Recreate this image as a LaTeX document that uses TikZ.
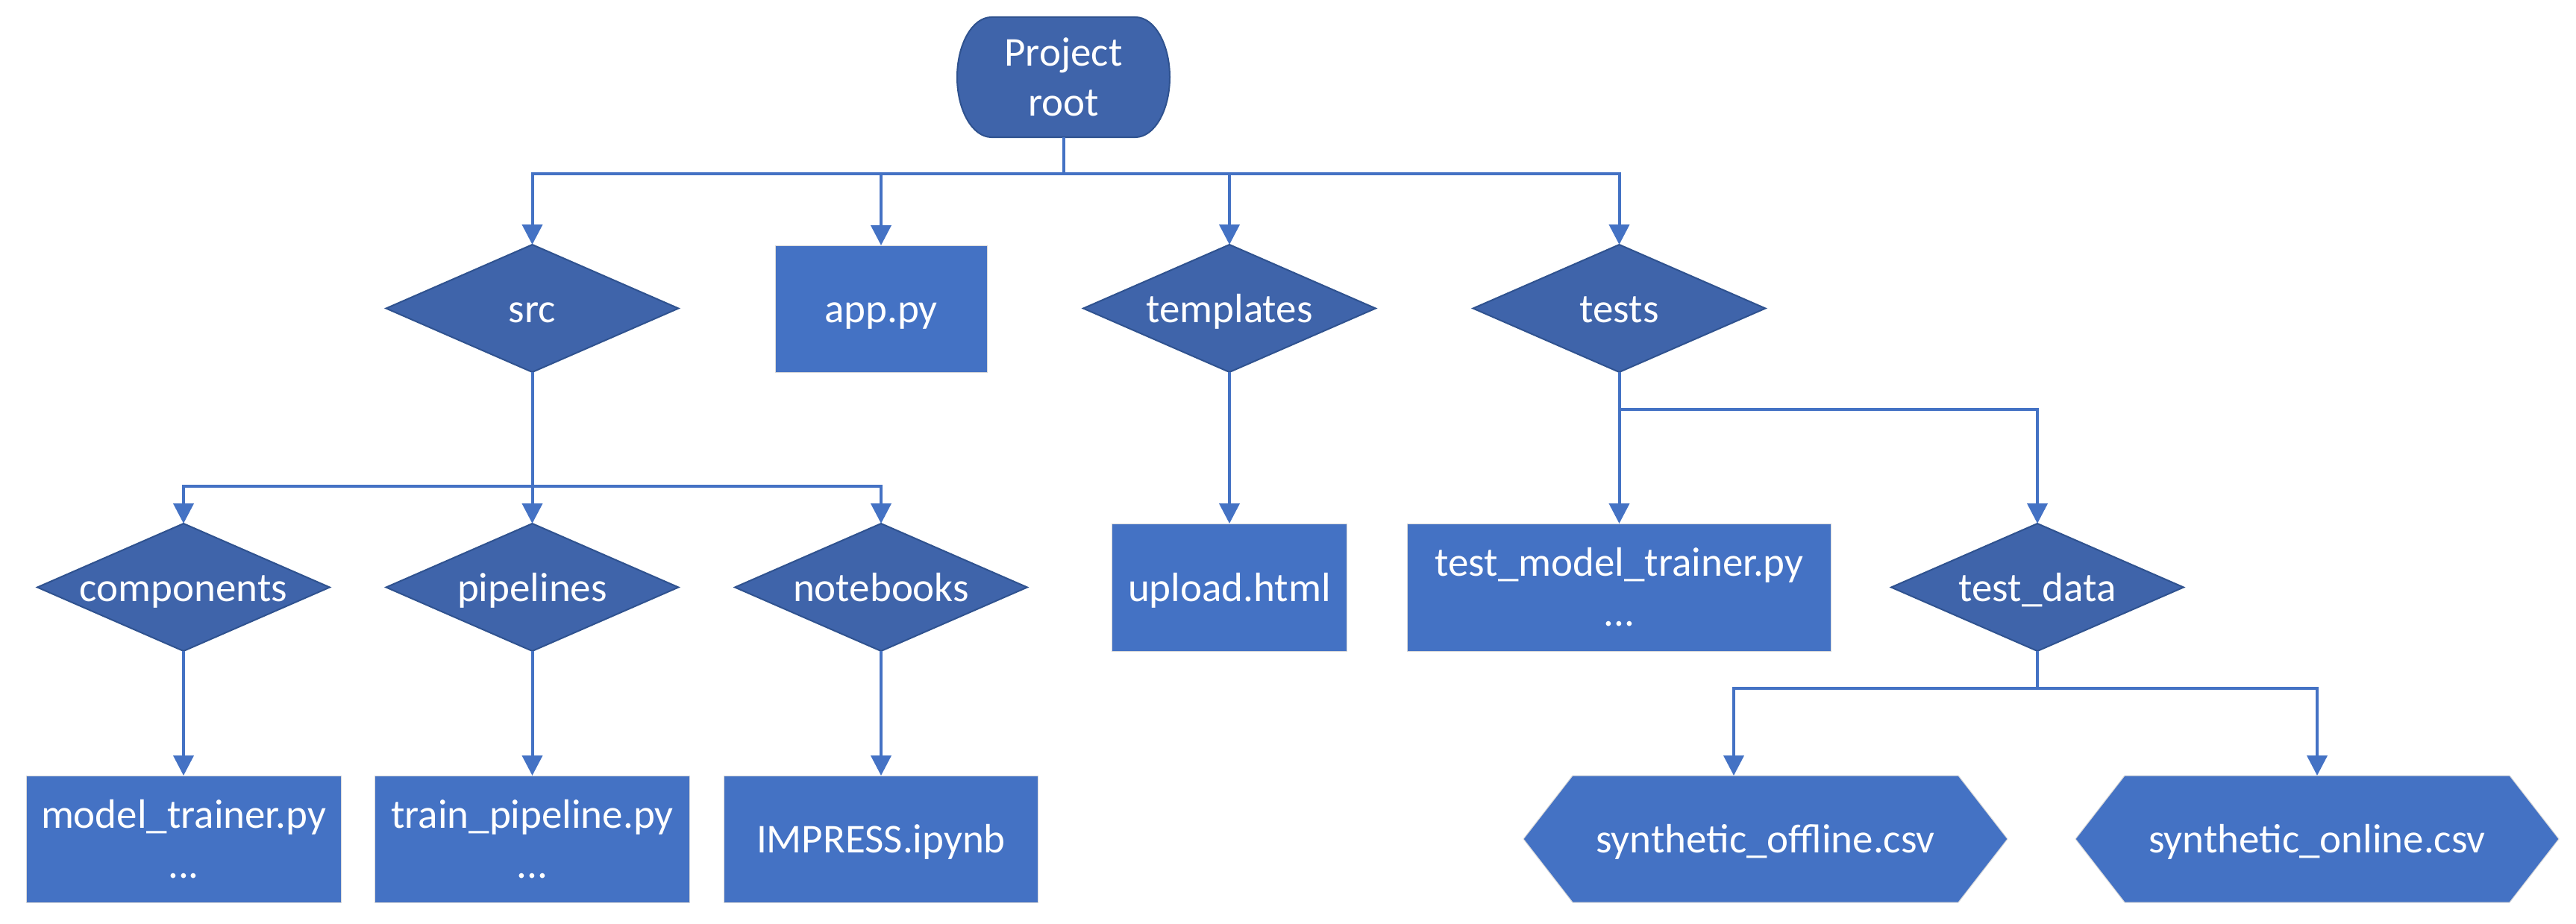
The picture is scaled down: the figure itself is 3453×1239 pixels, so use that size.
\documentclass[tikz,border=0pt]{standalone}
\usepackage{fontspec}
\setmainfont{Carlito}
\usetikzlibrary{shapes.geometric,arrows.meta}
\definecolor{boxblue}{HTML}{4472C4}
\definecolor{dblue}{HTML}{3F64AA}
\definecolor{edgeblue}{HTML}{2F528F}
\definecolor{linecol}{HTML}{4472C4}
\newcommand{\ms}{\rule[-15pt]{0pt}{67pt}}
\begin{document}
\begin{tikzpicture}[x=1pt,y=1pt,
  every node/.style={font=\fontsize{55pt}{67pt}\selectfont, text=white, inner sep=0pt, outer sep=0pt},
  dia/.style={diamond, fill=dblue, draw=edgeblue, line width=2pt, minimum width=392pt, minimum height=171pt},
  box/.style={rectangle, fill=boxblue, draw=black!15, line width=1pt, minimum height=170pt, align=center},
  hexfill/.style={fill=boxblue, draw=black!15, line width=1pt},
  conn/.style={draw=linecol, line width=4pt},
  arr/.style={conn, -{Triangle[length=27pt,width=27pt]}},
]
\useasboundingbox (0,0) rectangle (3453,-1239);

% root (terminator shape)
\filldraw[fill=dblue, draw=edgeblue, line width=2pt]
  (1329,-23) -- (1522,-23) arc[start angle=90, end angle=-90, x radius=46, y radius=80.5]
  -- (1329,-184) arc[start angle=270, end angle=90, x radius=46, y radius=80.5] -- cycle;
\node[minimum width=285pt, minimum height=161pt, align=center] (root) at (1425.5,-103.5) {\ms Project\\\ms root};

% level 1
\node[dia] (src) at (713.5,-413.5) {\makebox[0pt]{\ms src}};
\node[box, minimum width=284pt] (app) at (1181,-414) {\ms app.py};
\node[dia] (tpl) at (1648,-413.5) {\makebox[0pt]{\ms templates}};
\node[dia] (tests) at (2170.5,-413.5) {\makebox[0pt]{\ms tests}};

% level 2
\node[dia] (comp) at (246,-787.5) {\makebox[0pt]{\ms components}};
\node[dia] (pipe) at (713.5,-787.5) {\makebox[0pt]{\ms pipelines}};
\node[dia] (nb) at (1181,-787.5) {\makebox[0pt]{\ms notebooks}};
\node[box, minimum width=315pt, minimum height=171pt] (up) at (1648,-787.5) {\ms upload.html};
\node[box, minimum width=568pt, minimum height=171pt] (tmt) at (2170.5,-787.5) {\ms test\_model\_trainer.py\\\ms ...};
\node[dia] (td) at (2731,-787.5) {\makebox[0pt]{\ms test\_data}};

% level 3
\node[box, minimum width=422pt] (mt) at (246,-1125) {\ms model\_trainer.py\\\ms ...};
\node[box, minimum width=422pt] (tp) at (713.5,-1125) {\ms train\_pipeline.py\\\ms ...};
\node[box, minimum width=421pt] (imp) at (1181,-1125) {\ms IMPRESS.ipynb};

\filldraw[hexfill] (2042,-1125) -- (2108,-1040) -- (2625,-1040) -- (2691,-1125) -- (2625,-1210) -- (2108,-1210) -- cycle;
\node[minimum width=649pt, minimum height=170pt] (off) at (2366.5,-1125) {\ms synthetic\_offline.csv};
\filldraw[hexfill] (2782,-1125) -- (2848,-1040) -- (3364,-1040) -- (3430,-1125) -- (3364,-1210) -- (2848,-1210) -- cycle;
\node[minimum width=648pt, minimum height=170pt] (on) at (3106,-1125) {\ms synthetic\_online.csv};

% connectors
\coordinate (b1) at (1425.5,-233);
\draw[conn] (root.south) -- (b1);
\draw[arr] (b1) -| (src.north);
\draw[arr] (b1) -| (app.north);
\draw[arr] (b1) -| (tpl.north);
\draw[arr] (b1) -| (tests.north);

\coordinate (b2) at (713.5,-652);
\draw[conn] (src.south) -- (b2);
\draw[arr] (b2) -| (comp.north);
\draw[arr] (b2) -- (pipe.north);
\draw[arr] (b2) -| (nb.north);

\draw[arr] (tpl.south) -- (up.north);

\coordinate (b3) at (2170.5,-549);
\draw[conn] (tests.south) -- (b3);
\draw[arr] (b3) -- (tmt.north);
\draw[arr] (b3) -| (td.north);

\draw[arr] (comp.south) -- (mt.north);
\draw[arr] (pipe.south) -- (tp.north);
\draw[arr] (nb.south) -- (imp.north);

\coordinate (b4) at (2731,-923);
\coordinate (offin) at (2324,-1040);
\draw[conn] (td.south) -- (b4);
\draw[arr] (b4) -| (offin);
\draw[arr] (b4) -| (on.north);
\end{tikzpicture}
\end{document}
